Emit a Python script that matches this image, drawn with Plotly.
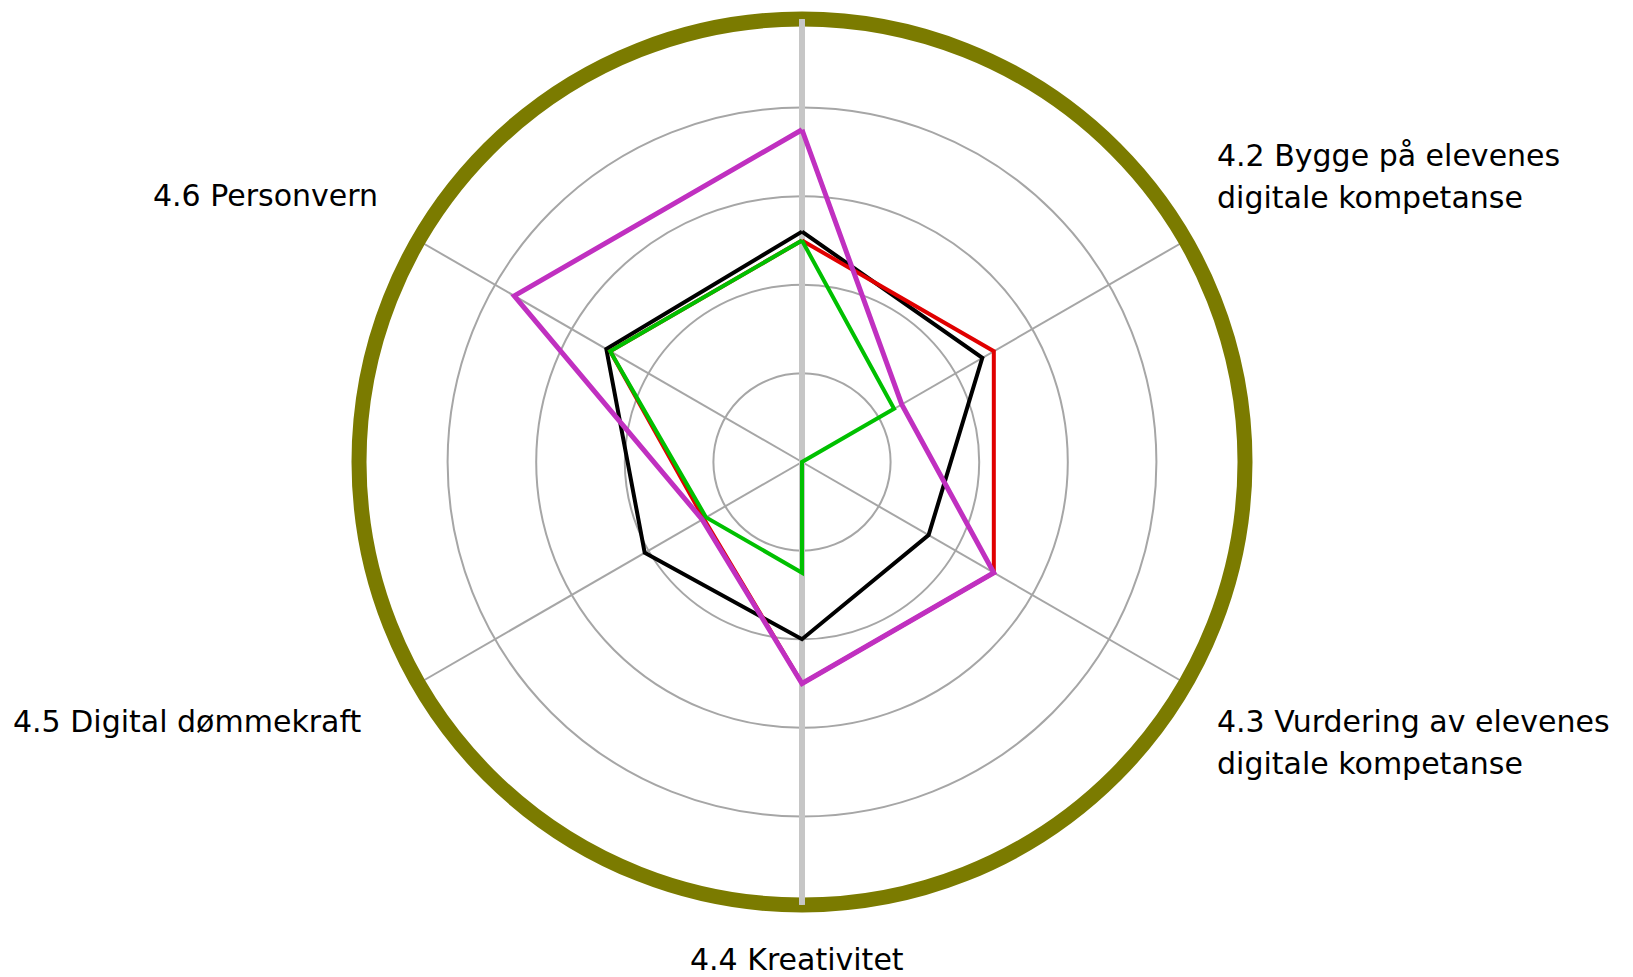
import plotly.graph_objects as go

# ---- data ----
categories = ["4.1", "4.2 Bygge på elevenes digitale kompetanse",
              "4.3 Vurdering av elevenes digitale kompetanse", "4.4 Kreativitet",
              "4.5 Digital dømmekraft", "4.6 Personvern"]
black_vals = [2.6, 2.35, 1.65, 2.0, 2.05, 2.55]
red_vals = [2.5, 2.5, 2.5, 2.5, 1.28, 2.5]
green_vals = [2.5, 1.2, 0.0, 1.25, 1.25, 2.5]
magenta_vals = [3.75, 1.3, 2.5, 2.5, 1.3, 3.75]
r_max = 5

# label texts (top category has no visible label)
label_42 = ["4.2 Bygge på elevenes", "digitale kompetanse"]
label_43 = ["4.3 Vurdering av elevenes", "digitale kompetanse"]
label_44 = "4.4 Kreativitet"
label_45 = "4.5 Digital dømmekraft"
label_46 = "4.6 Personvern"

FONT = "DejaVu Sans"
W, H = 1633, 977
OFF = 8  # default page body margin

fig = go.Figure()

# thick light-grey vertical spoke (top and bottom axes)
fig.add_trace(go.Scatterpolar(
    r=[r_max, 0, r_max], theta=[categories[0], categories[0], categories[3]],
    mode="lines", line=dict(color="#c6c6c6", width=6),
    hoverinfo="skip", showlegend=False))

def closed(v):
    return v + v[:1]

theta_c = closed(categories)
series = [
    ("Serie 1", black_vals, "#000000", 4),
    ("Serie 2", red_vals, "#e00000", 4),
    ("Serie 3", green_vals, "#00c000", 4),
    ("Serie 4", magenta_vals, "#c030c0", 5),
]
for name, vals, col, w in series:
    fig.add_trace(go.Scatterpolar(
        r=closed(vals), theta=theta_c, mode="lines", name=name,
        line=dict(color=col, width=w), showlegend=False))

cx, cy, R = 802 - OFF, 462 - OFF, 443
fig.update_layout(
    width=W, height=H,
    margin=dict(l=0, r=0, t=0, b=0),
    paper_bgcolor="white",
    showlegend=False,
    polar=dict(
        domain=dict(x=[(cx - R) / W, (cx + R) / W],
                    y=[(H - cy - R) / H, (H - cy + R) / H]),
        bgcolor="white",
        radialaxis=dict(range=[0, r_max], dtick=1, showticklabels=False, ticks="",
                        showline=False, gridcolor="#a6a6a6", gridwidth=2,
                        layer="below traces"),
        angularaxis=dict(type="category", categoryarray=categories,
                         direction="clockwise", rotation=90,
                         showticklabels=False, ticks="",
                         gridcolor="#a6a6a6", gridwidth=2,
                         showline=True, linecolor="#7b7b00", linewidth=15,
                         layer="below traces"),
    ),
)

def ann(text, x, y, xanchor):
    fig.add_annotation(text=text, x=(x - OFF) / W, y=1 - (y - OFF) / H,
                       xref="paper", yref="paper",
                       xanchor=xanchor, yanchor="middle", showarrow=False,
                       font=dict(family=FONT, size=30, color="#000000"))

ann(label_42[0], 1215, 156, "left")
ann(label_42[1], 1215, 198, "left")
ann(label_43[0], 1215, 721, "left")
ann(label_43[1], 1215, 763, "left")
ann(label_44, 797, 959, "center")
ann(label_45, 11, 721, "left")
ann(label_46, 380, 196, "right")

fig.write_html("out.html")
